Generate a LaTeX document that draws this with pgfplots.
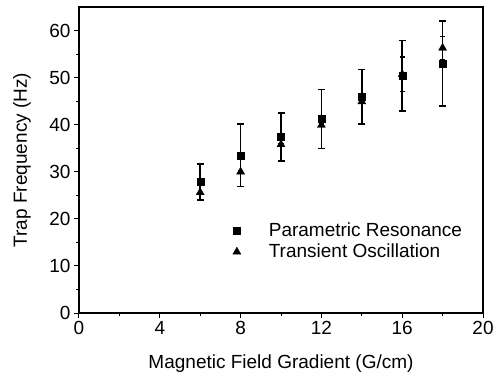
\documentclass[border=0pt]{standalone}
\usepackage{fontspec}
\setmainfont{Liberation Sans}
\usepackage{pgfplots}
\pgfplotsset{compat=1.18}
\begin{document}
\begin{tikzpicture}
\useasboundingbox (-79bp,-61bp) rectangle (424bp,313bp);
\begin{axis}[
 scale only axis, width=404bp, height=306bp,
 xmin=0, xmax=20, ymin=0, ymax=65,
 xtick={0,4,...,20}, ytick={0,10,...,60},
 minor x tick num=1, minor y tick num=1,
 tick align=outside, xtick pos=bottom, ytick pos=left,
 major tick length=5bp, minor tick length=3bp,
 axis line style={line width=1.1bp},
 every tick/.style={black, line width=1bp},
 font=\fontsize{19bp}{22bp}\selectfont,
 /pgf/number format/assume math mode=true,
 xlabel={Magnetic Field Gradient (G/cm)},
 ylabel={Trap Frequency (Hz)},
 xlabel style={at={(axis description cs:0.5,-0.166)}, anchor=center},
 ylabel style={at={(axis description cs:-0.141,0.5)}, anchor=center, rotate=0},
 legend style={draw=none, fill=none, at={(axis description cs:0.373,0.308)}, anchor=north west,
   font=\fontsize{19bp}{22bp}\selectfont, row sep=2bp},
 legend cell align=left,
]
\addplot[only marks, mark=square*, black, mark size=3.5bp,
  error bars/.cd, y dir=both, y explicit,
  error bar style={line width=1.5bp, black},
  error mark options={rotate=90, mark size=3.5bp, line width=1.5bp, black}]
  table[x=x, y=y, y error=e] {
x y e
6 27.8 3.8
8 33.5 6.6
10 37.4 5.1
12 41.2 6.3
14 45.9 5.8
16 50.4 7.5
18 53.0 9.0
};
\addlegendentry{\hspace{26bp}Parametric Resonance}
\addplot[only marks, mark=triangle*, black, mark size=4.6bp,
  error bars/.cd, y dir=both, y explicit,
  error bar style={line width=1.5bp, black},
  error mark options={rotate=90, mark size=2.6bp, line width=1.5bp, black}]
  table[x=x, y=y, y error=e] {
x y e
6 25.6 1.5
8 30.0 0.2
10 35.8 0.2
12 39.9 0.2
14 44.9 0.2
16 50.7 3.7
18 56.3 2.4
};
\addlegendentry{\hspace{26bp}Transient Oscillation}
\end{axis}
\end{tikzpicture}
\end{document}
